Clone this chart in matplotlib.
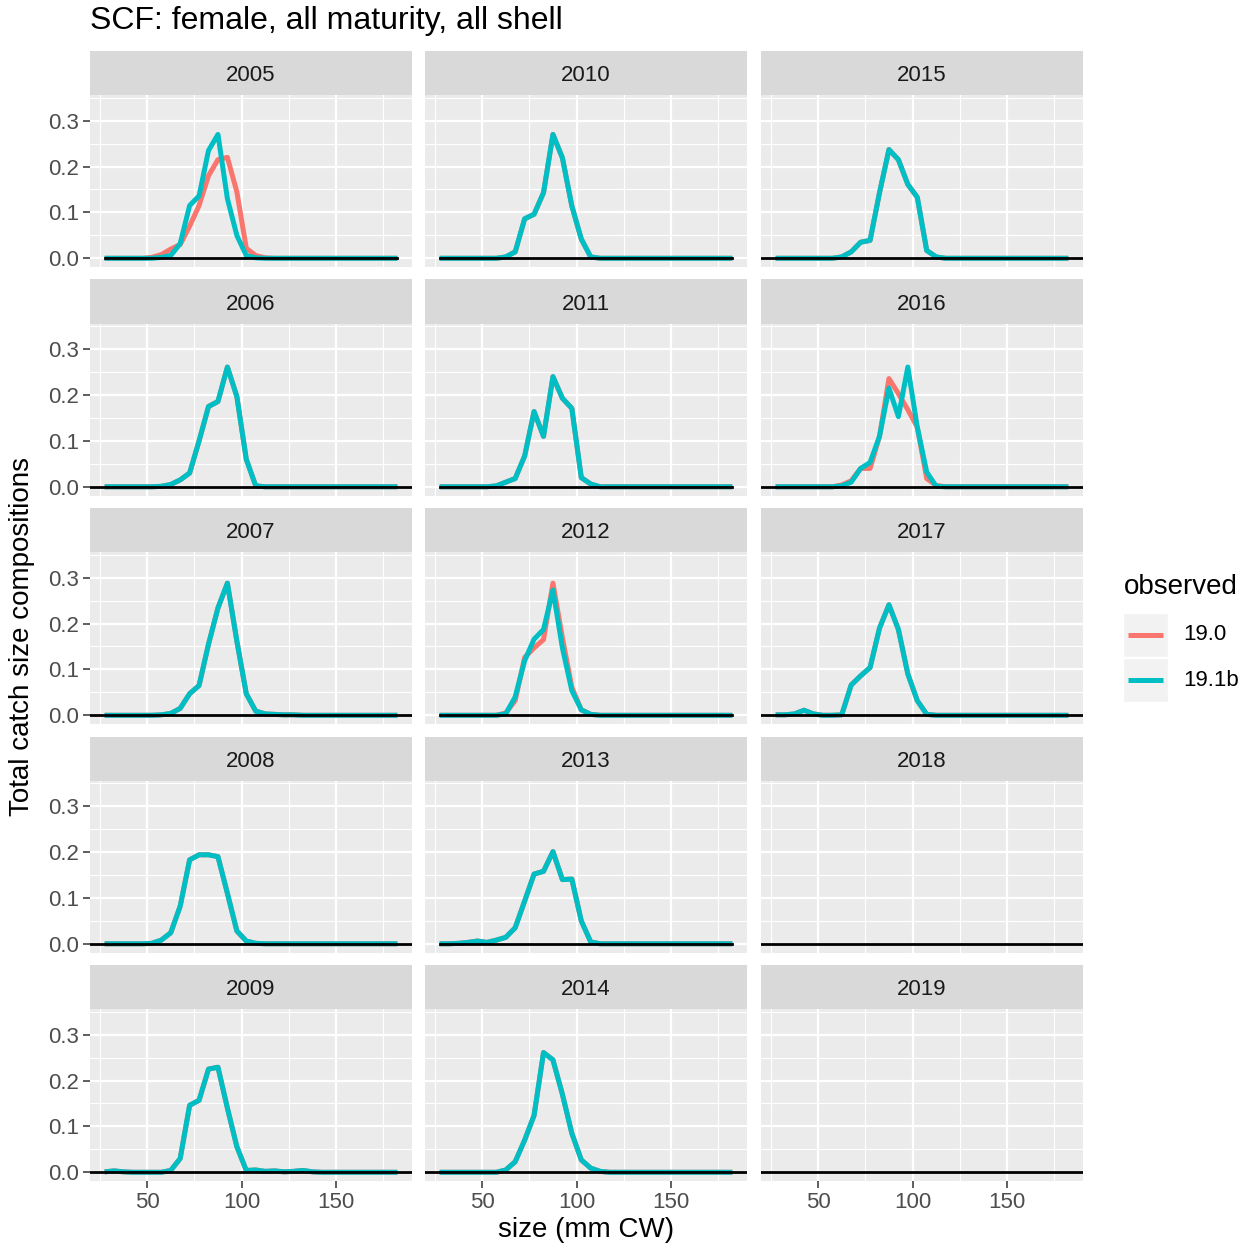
import matplotlib
matplotlib.use("Agg")
import matplotlib.pyplot as plt
import numpy as np

plt.rcParams['font.family'] = ['Liberation Sans', 'DejaVu Sans']

# Size bins (mm CW), midpoints
size_bins = [27.5, 32.5, 37.5, 42.5, 47.5, 52.5, 57.5, 62.5, 67.5, 72.5,
             77.5, 82.5, 87.5, 92.5, 97.5, 102.5, 107.5, 112.5, 117.5, 122.5,
             127.5, 132.5, 137.5, 142.5, 147.5, 152.5, 157.5, 162.5, 167.5,
             172.5, 177.5, 182.5]

years = list(range(2005, 2020))
series_labels = ["19.0", "19.1b"]
series_colors = ["#F8766D", "#00BFC4"]

Z = [0.0] * 15  # tail of empty bins 112.5+ (appended after the first 17 bins)

# Observed catch size compositions, model 19.1b
obs_191b = {
    2005: [0, 0, 0, 0, 0, 0, 0.002, 0.006, 0.032, 0.115, 0.136, 0.235, 0.270, 0.130, 0.050, 0.006, 0.001] + Z,
    2006: [0, 0, 0, 0, 0, 0, 0.001, 0.005, 0.015, 0.030, 0.100, 0.175, 0.186, 0.261, 0.197, 0.060, 0.002] + Z,
    2007: [0, 0, 0, 0, 0, 0, 0.001, 0.004, 0.015, 0.047, 0.065, 0.155, 0.234, 0.288, 0.162, 0.047, 0.009,
           0.003, 0.002, 0.001, 0.001, 0, 0, 0, 0, 0, 0, 0, 0, 0, 0, 0],
    2008: [0, 0, 0, 0, 0, 0.001, 0.008, 0.024, 0.082, 0.183, 0.194, 0.194, 0.190, 0.110, 0.028, 0.006, 0.001] + Z,
    2009: [0.001, 0.003, 0.001, 0, 0, 0, 0, 0.004, 0.030, 0.146, 0.157, 0.225, 0.229, 0.140, 0.056, 0.004, 0.005,
           0.002, 0.003, 0.001, 0.002, 0.004, 0.001, 0, 0, 0, 0, 0, 0, 0, 0, 0],
    2010: [0, 0, 0, 0, 0, 0, 0, 0.003, 0.014, 0.086, 0.096, 0.143, 0.270, 0.219, 0.114, 0.042, 0.003] + Z,
    2011: [0, 0, 0, 0, 0, 0, 0.002, 0.010, 0.018, 0.067, 0.164, 0.110, 0.240, 0.193, 0.171, 0.020, 0.006] + Z,
    2012: [0, 0, 0, 0, 0, 0, 0, 0.003, 0.040, 0.119, 0.166, 0.187, 0.273, 0.147, 0.054, 0.012, 0.002] + Z,
    2013: [0, 0, 0.001, 0.003, 0.006, 0.003, 0.008, 0.014, 0.035, 0.093, 0.152, 0.158, 0.201, 0.140, 0.141, 0.050, 0.004] + Z,
    2014: [0, 0, 0, 0, 0, 0, 0, 0.005, 0.023, 0.070, 0.124, 0.261, 0.245, 0.170, 0.085, 0.027, 0.009,
           0.002, 0, 0, 0, 0, 0, 0, 0, 0, 0, 0, 0, 0, 0, 0],
    2015: [0, 0, 0, 0, 0, 0, 0, 0.003, 0.014, 0.035, 0.039, 0.143, 0.237, 0.215, 0.161, 0.133, 0.017,
           0.003, 0, 0, 0, 0, 0, 0, 0, 0, 0, 0, 0, 0, 0, 0],
    2016: [0, 0, 0, 0, 0, 0, 0, 0.002, 0.010, 0.040, 0.053, 0.110, 0.215, 0.153, 0.261, 0.130, 0.032,
           0.001, 0, 0, 0, 0, 0, 0, 0, 0, 0, 0, 0, 0, 0, 0],
    2017: [0.001, 0.001, 0.003, 0.011, 0.003, 0, 0, 0.001, 0.066, 0.086, 0.104, 0.190, 0.241, 0.187, 0.090, 0.032, 0.002] + Z,
}

# Observed catch size compositions, model 19.0 (where it differs from 19.1b)
obs_190 = dict(obs_191b)
obs_190[2005] = [0, 0, 0, 0, 0, 0.002, 0.008, 0.020, 0.030, 0.070, 0.115, 0.180, 0.215, 0.220, 0.145, 0.022, 0.006,
                 0.001, 0, 0, 0, 0, 0, 0, 0, 0, 0, 0, 0, 0, 0, 0]
obs_190[2012] = [0, 0, 0, 0, 0, 0, 0, 0.005, 0.032, 0.126, 0.147, 0.165, 0.288, 0.169, 0.061, 0.012, 0.002] + Z
obs_190[2016] = [0, 0, 0, 0, 0, 0, 0, 0.004, 0.013, 0.040, 0.040, 0.110, 0.236, 0.203, 0.168, 0.130, 0.018,
                 0.003, 0, 0, 0, 0, 0, 0, 0, 0, 0, 0, 0, 0, 0, 0]

# panels whose zero reference line covers only the bin range
short_baseline = {2005, 2010, 2011, 2012, 2013}

W, H = 1250, 1249
fig = plt.figure(figsize=(W / 100, H / 100), dpi=100)
fig.patch.set_facecolor("white")


def box(x0, y0, w, h):
    return [x0 / W, 1 - (y0 + h) / H, w / W, h / H]


col_left = [90, 425, 761]
panel_w = 322
strip_h = 44
panel_h = 172
row_pitch = 228.5
first_top = 51

xlim = (19.75, 190.25)
ylim = (-0.019, 0.356)

for idx, yr in enumerate(years):
    col = idx // 5
    row = idx % 5
    top = first_top + row * row_pitch
    # strip
    sax = fig.add_axes(box(col_left[col], top, panel_w, strip_h))
    sax.set_facecolor("#D9D9D9")
    sax.set_xticks([]); sax.set_yticks([])
    for s in sax.spines.values():
        s.set_visible(False)
    sax.text(0.5, 0.44, str(yr), ha="center", va="center", fontsize=16,
             color="#1A1A1A", transform=sax.transAxes)

    ax = fig.add_axes(box(col_left[col], top + strip_h, panel_w, panel_h))
    ax.set_facecolor("#EBEBEB")
    for s in ax.spines.values():
        s.set_visible(False)
    ax.set_xlim(*xlim)
    ax.set_ylim(*ylim)
    ax.set_xticks([50, 100, 150])
    ax.set_xticks([25, 75, 125, 175], minor=True)
    ax.set_yticks([0.0, 0.1, 0.2, 0.3])
    ax.set_yticks([0.05, 0.15, 0.25, 0.35], minor=True)
    ax.grid(True, which="major", color="white", linewidth=1.6)
    ax.grid(True, which="minor", color="white", linewidth=0.8)
    ax.set_axisbelow(True)
    ax.tick_params(which="minor", length=0)
    ax.tick_params(which="major", length=5, width=1.1, color="#333333",
                   labelsize=16, labelcolor="#4D4D4D", pad=3)
    if col == 0:
        ax.set_yticklabels(["0.0", "0.1", "0.2", "0.3"])
    else:
        ax.tick_params(axis="y", which="major", length=0, labelleft=False)
    if row == 4:
        ax.set_xticklabels(["50", "100", "150"])
    else:
        ax.tick_params(axis="x", which="major", length=0, labelbottom=False)

    if yr in obs_191b:
        ax.plot(size_bins, obs_190[yr], color=series_colors[0], linewidth=3.6,
                solid_joinstyle="round", solid_capstyle="butt", zorder=3)
        ax.plot(size_bins, obs_191b[yr], color=series_colors[1], linewidth=3.6,
                solid_joinstyle="round", solid_capstyle="butt", zorder=4)
    if yr in short_baseline:
        ax.plot([size_bins[0], size_bins[-1]], [0, 0], color="black",
                linewidth=2.0, zorder=5)
    else:
        ax.axhline(0, color="black", linewidth=2.0, zorder=5)

# titles
fig.text(90 / W, 1 - 21 / H, "SCF: female, all maturity, all shell",
         ha="left", va="center", fontsize=23, color="black")
fig.text(586 / W, 1 - 1230 / H, "size (mm CW)", ha="center", va="center",
         fontsize=20, color="black")
fig.text(22 / W, 1 - 637 / H, "Total catch size compositions", ha="center",
         va="center", rotation=90, fontsize=20, color="black")

# legend
lax = fig.add_axes(box(1110, 560, 140, 150))
lax.set_xlim(1110, 1250)
lax.set_ylim(710, 560)
lax.axis("off")
lax.text(1124, 587, "observed", ha="left", va="center", fontsize=20, color="black")
for i, (lab, colr) in enumerate(zip(series_labels, series_colors)):
    yc = 635 + 45 * i
    lax.add_patch(plt.Rectangle((1123, yc - 22), 45, 44, facecolor="#F2F2F2",
                                edgecolor="white", linewidth=1))
    lax.plot([1128, 1163], [yc, yc], color=colr, linewidth=3.6,
             solid_capstyle="butt")
    lax.text(1183, yc, lab, ha="left", va="center", fontsize=16, color="black")

fig.savefig("out.png", dpi=100)
